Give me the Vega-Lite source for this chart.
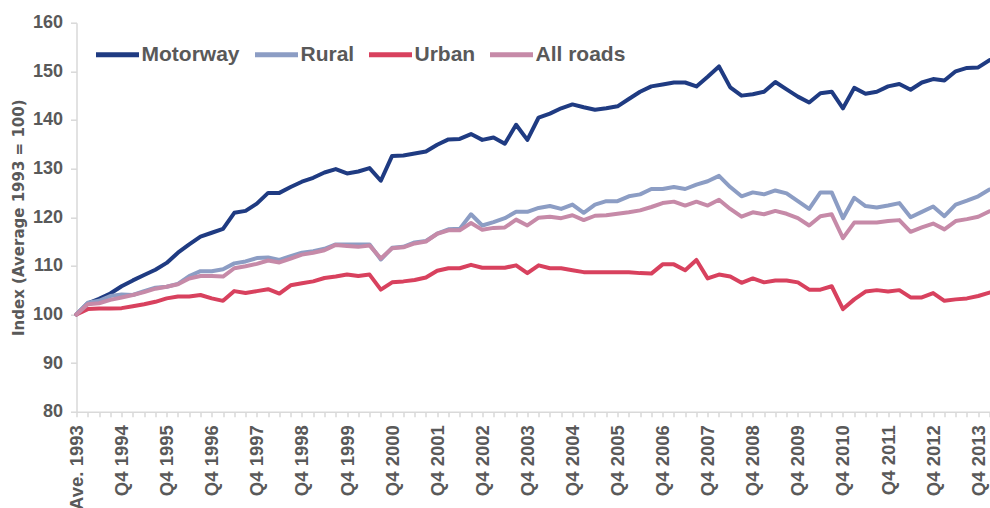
{
"$schema": "https://vega.github.io/schema/vega-lite/v6.json",
"width": 913, "height": 389,
"autosize": {"type": "none"},
"padding": {"left": 76.5, "top": 22.7, "right": 0.5, "bottom": 96.3},
"background": "white",
"config": {"view": {"stroke": null}, "font": "Liberation Sans"},
"datasets": {"d": [
{"period":"Ave. 1993","road":"Motorway","index":100.0},{"period":"Q1 1994","road":"Motorway","index":102.3},{"period":"Q2 1994","road":"Motorway","index":103.2},{"period":"Q3 1994","road":"Motorway","index":104.3},{"period":"Q4 1994","road":"Motorway","index":105.8},
{"period":"Q1 1995","road":"Motorway","index":107.0},{"period":"Q2 1995","road":"Motorway","index":108.1},{"period":"Q3 1995","road":"Motorway","index":109.2},{"period":"Q4 1995","road":"Motorway","index":110.6},
{"period":"Q1 1996","road":"Motorway","index":112.7},{"period":"Q2 1996","road":"Motorway","index":114.4},{"period":"Q3 1996","road":"Motorway","index":116.0},{"period":"Q4 1996","road":"Motorway","index":116.8},
{"period":"Q1 1997","road":"Motorway","index":117.6},{"period":"Q2 1997","road":"Motorway","index":120.9},{"period":"Q3 1997","road":"Motorway","index":121.3},{"period":"Q4 1997","road":"Motorway","index":122.8},
{"period":"Q1 1998","road":"Motorway","index":125.0},{"period":"Q2 1998","road":"Motorway","index":125.0},{"period":"Q3 1998","road":"Motorway","index":126.2},{"period":"Q4 1998","road":"Motorway","index":127.3},
{"period":"Q1 1999","road":"Motorway","index":128.1},{"period":"Q2 1999","road":"Motorway","index":129.2},{"period":"Q3 1999","road":"Motorway","index":129.9},{"period":"Q4 1999","road":"Motorway","index":129.0},
{"period":"Q1 2000","road":"Motorway","index":129.4},{"period":"Q2 2000","road":"Motorway","index":130.1},{"period":"Q3 2000","road":"Motorway","index":127.5},{"period":"Q4 2000","road":"Motorway","index":132.6},
{"period":"Q1 2001","road":"Motorway","index":132.7},{"period":"Q2 2001","road":"Motorway","index":133.1},{"period":"Q3 2001","road":"Motorway","index":133.5},{"period":"Q4 2001","road":"Motorway","index":134.9},
{"period":"Q1 2002","road":"Motorway","index":136.0},{"period":"Q2 2002","road":"Motorway","index":136.1},{"period":"Q3 2002","road":"Motorway","index":137.1},{"period":"Q4 2002","road":"Motorway","index":135.9},
{"period":"Q1 2003","road":"Motorway","index":136.4},{"period":"Q2 2003","road":"Motorway","index":135.1},{"period":"Q3 2003","road":"Motorway","index":139.0},{"period":"Q4 2003","road":"Motorway","index":135.9},
{"period":"Q1 2004","road":"Motorway","index":140.5},{"period":"Q2 2004","road":"Motorway","index":141.3},{"period":"Q3 2004","road":"Motorway","index":142.4},{"period":"Q4 2004","road":"Motorway","index":143.2},
{"period":"Q1 2005","road":"Motorway","index":142.6},{"period":"Q2 2005","road":"Motorway","index":142.1},{"period":"Q3 2005","road":"Motorway","index":142.4},{"period":"Q4 2005","road":"Motorway","index":142.8},
{"period":"Q1 2006","road":"Motorway","index":144.3},{"period":"Q2 2006","road":"Motorway","index":145.8},{"period":"Q3 2006","road":"Motorway","index":146.9},{"period":"Q4 2006","road":"Motorway","index":147.3},
{"period":"Q1 2007","road":"Motorway","index":147.7},{"period":"Q2 2007","road":"Motorway","index":147.7},{"period":"Q3 2007","road":"Motorway","index":146.9},{"period":"Q4 2007","road":"Motorway","index":148.9},
{"period":"Q1 2008","road":"Motorway","index":151.0},{"period":"Q2 2008","road":"Motorway","index":146.7},{"period":"Q3 2008","road":"Motorway","index":145.0},{"period":"Q4 2008","road":"Motorway","index":145.3},
{"period":"Q1 2009","road":"Motorway","index":145.8},{"period":"Q2 2009","road":"Motorway","index":147.8},{"period":"Q3 2009","road":"Motorway","index":146.3},{"period":"Q4 2009","road":"Motorway","index":144.8},
{"period":"Q1 2010","road":"Motorway","index":143.6},{"period":"Q2 2010","road":"Motorway","index":145.5},{"period":"Q3 2010","road":"Motorway","index":145.8},{"period":"Q4 2010","road":"Motorway","index":142.4},
{"period":"Q1 2011","road":"Motorway","index":146.6},{"period":"Q2 2011","road":"Motorway","index":145.4},{"period":"Q3 2011","road":"Motorway","index":145.8},{"period":"Q4 2011","road":"Motorway","index":146.9},
{"period":"Q1 2012","road":"Motorway","index":147.4},{"period":"Q2 2012","road":"Motorway","index":146.2},{"period":"Q3 2012","road":"Motorway","index":147.7},{"period":"Q4 2012","road":"Motorway","index":148.4},
{"period":"Q1 2013","road":"Motorway","index":148.1},{"period":"Q2 2013","road":"Motorway","index":150.0},{"period":"Q3 2013","road":"Motorway","index":150.7},{"period":"Q4 2013","road":"Motorway","index":150.8},
{"period":"Q1 2014","road":"Motorway","index":152.3},

{"period":"Ave. 1993","road":"Rural","index":100.0},{"period":"Q1 1994","road":"Rural","index":102.4},{"period":"Q2 1994","road":"Rural","index":102.8},{"period":"Q3 1994","road":"Rural","index":103.8},{"period":"Q4 1994","road":"Rural","index":104.1},
{"period":"Q1 1995","road":"Rural","index":104.0},{"period":"Q2 1995","road":"Rural","index":104.8},{"period":"Q3 1995","road":"Rural","index":105.5},{"period":"Q4 1995","road":"Rural","index":105.7},
{"period":"Q1 1996","road":"Rural","index":106.3},{"period":"Q2 1996","road":"Rural","index":107.9},{"period":"Q3 1996","road":"Rural","index":108.9},{"period":"Q4 1996","road":"Rural","index":108.9},
{"period":"Q1 1997","road":"Rural","index":109.3},{"period":"Q2 1997","road":"Rural","index":110.5},{"period":"Q3 1997","road":"Rural","index":110.9},{"period":"Q4 1997","road":"Rural","index":111.6},
{"period":"Q1 1998","road":"Rural","index":111.7},{"period":"Q2 1998","road":"Rural","index":111.2},{"period":"Q3 1998","road":"Rural","index":112.0},{"period":"Q4 1998","road":"Rural","index":112.7},
{"period":"Q1 1999","road":"Rural","index":113.0},{"period":"Q2 1999","road":"Rural","index":113.5},{"period":"Q3 1999","road":"Rural","index":114.4},{"period":"Q4 1999","road":"Rural","index":114.4},
{"period":"Q1 2000","road":"Rural","index":114.4},{"period":"Q2 2000","road":"Rural","index":114.4},{"period":"Q3 2000","road":"Rural","index":111.3},{"period":"Q4 2000","road":"Rural","index":113.7},
{"period":"Q1 2001","road":"Rural","index":113.9},{"period":"Q2 2001","road":"Rural","index":114.8},{"period":"Q3 2001","road":"Rural","index":115.1},{"period":"Q4 2001","road":"Rural","index":116.6},
{"period":"Q1 2002","road":"Rural","index":117.5},{"period":"Q2 2002","road":"Rural","index":117.6},{"period":"Q3 2002","road":"Rural","index":120.6},{"period":"Q4 2002","road":"Rural","index":118.3},
{"period":"Q1 2003","road":"Rural","index":119.0},{"period":"Q2 2003","road":"Rural","index":119.8},{"period":"Q3 2003","road":"Rural","index":121.1},{"period":"Q4 2003","road":"Rural","index":121.1},
{"period":"Q1 2004","road":"Rural","index":121.9},{"period":"Q2 2004","road":"Rural","index":122.3},{"period":"Q3 2004","road":"Rural","index":121.7},{"period":"Q4 2004","road":"Rural","index":122.6},
{"period":"Q1 2005","road":"Rural","index":120.9},{"period":"Q2 2005","road":"Rural","index":122.6},{"period":"Q3 2005","road":"Rural","index":123.3},{"period":"Q4 2005","road":"Rural","index":123.3},
{"period":"Q1 2006","road":"Rural","index":124.3},{"period":"Q2 2006","road":"Rural","index":124.7},{"period":"Q3 2006","road":"Rural","index":125.8},{"period":"Q4 2006","road":"Rural","index":125.8},
{"period":"Q1 2007","road":"Rural","index":126.2},{"period":"Q2 2007","road":"Rural","index":125.8},{"period":"Q3 2007","road":"Rural","index":126.7},{"period":"Q4 2007","road":"Rural","index":127.4},
{"period":"Q1 2008","road":"Rural","index":128.5},{"period":"Q2 2008","road":"Rural","index":126.2},{"period":"Q3 2008","road":"Rural","index":124.3},{"period":"Q4 2008","road":"Rural","index":125.1},
{"period":"Q1 2009","road":"Rural","index":124.7},{"period":"Q2 2009","road":"Rural","index":125.5},{"period":"Q3 2009","road":"Rural","index":124.9},{"period":"Q4 2009","road":"Rural","index":123.3},
{"period":"Q1 2010","road":"Rural","index":121.7},{"period":"Q2 2010","road":"Rural","index":125.1},{"period":"Q3 2010","road":"Rural","index":125.1},{"period":"Q4 2010","road":"Rural","index":119.8},
{"period":"Q1 2011","road":"Rural","index":124.0},{"period":"Q2 2011","road":"Rural","index":122.3},{"period":"Q3 2011","road":"Rural","index":122.0},{"period":"Q4 2011","road":"Rural","index":122.4},
{"period":"Q1 2012","road":"Rural","index":122.9},{"period":"Q2 2012","road":"Rural","index":120.0},{"period":"Q3 2012","road":"Rural","index":121.1},{"period":"Q4 2012","road":"Rural","index":122.2},
{"period":"Q1 2013","road":"Rural","index":120.2},{"period":"Q2 2013","road":"Rural","index":122.6},{"period":"Q3 2013","road":"Rural","index":123.4},{"period":"Q4 2013","road":"Rural","index":124.3},
{"period":"Q1 2014","road":"Rural","index":125.7},

{"period":"Ave. 1993","road":"Urban","index":100.0},{"period":"Q1 1994","road":"Urban","index":101.1},{"period":"Q2 1994","road":"Urban","index":101.2},{"period":"Q3 1994","road":"Urban","index":101.2},{"period":"Q4 1994","road":"Urban","index":101.3},
{"period":"Q1 1995","road":"Urban","index":101.7},{"period":"Q2 1995","road":"Urban","index":102.1},{"period":"Q3 1995","road":"Urban","index":102.6},{"period":"Q4 1995","road":"Urban","index":103.3},
{"period":"Q1 1996","road":"Urban","index":103.7},{"period":"Q2 1996","road":"Urban","index":103.7},{"period":"Q3 1996","road":"Urban","index":104.0},{"period":"Q4 1996","road":"Urban","index":103.3},
{"period":"Q1 1997","road":"Urban","index":102.8},{"period":"Q2 1997","road":"Urban","index":104.8},{"period":"Q3 1997","road":"Urban","index":104.4},{"period":"Q4 1997","road":"Urban","index":104.8},
{"period":"Q1 1998","road":"Urban","index":105.2},{"period":"Q2 1998","road":"Urban","index":104.3},{"period":"Q3 1998","road":"Urban","index":106.0},{"period":"Q4 1998","road":"Urban","index":106.4},
{"period":"Q1 1999","road":"Urban","index":106.8},{"period":"Q2 1999","road":"Urban","index":107.5},{"period":"Q3 1999","road":"Urban","index":107.8},{"period":"Q4 1999","road":"Urban","index":108.2},
{"period":"Q1 2000","road":"Urban","index":107.9},{"period":"Q2 2000","road":"Urban","index":108.2},{"period":"Q3 2000","road":"Urban","index":105.1},{"period":"Q4 2000","road":"Urban","index":106.6},
{"period":"Q1 2001","road":"Urban","index":106.8},{"period":"Q2 2001","road":"Urban","index":107.1},{"period":"Q3 2001","road":"Urban","index":107.6},{"period":"Q4 2001","road":"Urban","index":109.0},
{"period":"Q1 2002","road":"Urban","index":109.5},{"period":"Q2 2002","road":"Urban","index":109.5},{"period":"Q3 2002","road":"Urban","index":110.2},{"period":"Q4 2002","road":"Urban","index":109.6},
{"period":"Q1 2003","road":"Urban","index":109.6},{"period":"Q2 2003","road":"Urban","index":109.6},{"period":"Q3 2003","road":"Urban","index":110.1},{"period":"Q4 2003","road":"Urban","index":108.5},
{"period":"Q1 2004","road":"Urban","index":110.1},{"period":"Q2 2004","road":"Urban","index":109.5},{"period":"Q3 2004","road":"Urban","index":109.5},{"period":"Q4 2004","road":"Urban","index":109.1},
{"period":"Q1 2005","road":"Urban","index":108.7},{"period":"Q2 2005","road":"Urban","index":108.7},{"period":"Q3 2005","road":"Urban","index":108.7},{"period":"Q4 2005","road":"Urban","index":108.7},
{"period":"Q1 2006","road":"Urban","index":108.7},{"period":"Q2 2006","road":"Urban","index":108.5},{"period":"Q3 2006","road":"Urban","index":108.4},{"period":"Q4 2006","road":"Urban","index":110.3},
{"period":"Q1 2007","road":"Urban","index":110.3},{"period":"Q2 2007","road":"Urban","index":109.1},{"period":"Q3 2007","road":"Urban","index":111.2},{"period":"Q4 2007","road":"Urban","index":107.4},
{"period":"Q1 2008","road":"Urban","index":108.2},{"period":"Q2 2008","road":"Urban","index":107.8},{"period":"Q3 2008","road":"Urban","index":106.5},{"period":"Q4 2008","road":"Urban","index":107.4},
{"period":"Q1 2009","road":"Urban","index":106.6},{"period":"Q2 2009","road":"Urban","index":107.0},{"period":"Q3 2009","road":"Urban","index":107.0},{"period":"Q4 2009","road":"Urban","index":106.6},
{"period":"Q1 2010","road":"Urban","index":105.1},{"period":"Q2 2010","road":"Urban","index":105.1},{"period":"Q3 2010","road":"Urban","index":105.8},{"period":"Q4 2010","road":"Urban","index":101.1},
{"period":"Q1 2011","road":"Urban","index":103.1},{"period":"Q2 2011","road":"Urban","index":104.7},{"period":"Q3 2011","road":"Urban","index":105.0},{"period":"Q4 2011","road":"Urban","index":104.7},
{"period":"Q1 2012","road":"Urban","index":105.0},{"period":"Q2 2012","road":"Urban","index":103.5},{"period":"Q3 2012","road":"Urban","index":103.5},{"period":"Q4 2012","road":"Urban","index":104.4},
{"period":"Q1 2013","road":"Urban","index":102.8},{"period":"Q2 2013","road":"Urban","index":103.1},{"period":"Q3 2013","road":"Urban","index":103.3},{"period":"Q4 2013","road":"Urban","index":103.8},
{"period":"Q1 2014","road":"Urban","index":104.5},

{"period":"Ave. 1993","road":"All roads","index":100.0},{"period":"Q1 1994","road":"All roads","index":102.1},{"period":"Q2 1994","road":"All roads","index":102.3},{"period":"Q3 1994","road":"All roads","index":103.0},{"period":"Q4 1994","road":"All roads","index":103.5},
{"period":"Q1 1995","road":"All roads","index":104.0},{"period":"Q2 1995","road":"All roads","index":104.6},{"period":"Q3 1995","road":"All roads","index":105.3},{"period":"Q4 1995","road":"All roads","index":105.7},
{"period":"Q1 1996","road":"All roads","index":106.2},{"period":"Q2 1996","road":"All roads","index":107.4},{"period":"Q3 1996","road":"All roads","index":107.9},{"period":"Q4 1996","road":"All roads","index":107.9},
{"period":"Q1 1997","road":"All roads","index":107.8},{"period":"Q2 1997","road":"All roads","index":109.5},{"period":"Q3 1997","road":"All roads","index":109.9},{"period":"Q4 1997","road":"All roads","index":110.4},
{"period":"Q1 1998","road":"All roads","index":111.1},{"period":"Q2 1998","road":"All roads","index":110.7},{"period":"Q3 1998","road":"All roads","index":111.5},{"period":"Q4 1998","road":"All roads","index":112.3},
{"period":"Q1 1999","road":"All roads","index":112.7},{"period":"Q2 1999","road":"All roads","index":113.2},{"period":"Q3 1999","road":"All roads","index":114.3},{"period":"Q4 1999","road":"All roads","index":114.1},
{"period":"Q1 2000","road":"All roads","index":113.9},{"period":"Q2 2000","road":"All roads","index":114.2},{"period":"Q3 2000","road":"All roads","index":111.5},{"period":"Q4 2000","road":"All roads","index":113.6},
{"period":"Q1 2001","road":"All roads","index":113.8},{"period":"Q2 2001","road":"All roads","index":114.6},{"period":"Q3 2001","road":"All roads","index":115.0},{"period":"Q4 2001","road":"All roads","index":116.6},
{"period":"Q1 2002","road":"All roads","index":117.3},{"period":"Q2 2002","road":"All roads","index":117.3},{"period":"Q3 2002","road":"All roads","index":118.8},{"period":"Q4 2002","road":"All roads","index":117.4},
{"period":"Q1 2003","road":"All roads","index":117.8},{"period":"Q2 2003","road":"All roads","index":117.9},{"period":"Q3 2003","road":"All roads","index":119.5},{"period":"Q4 2003","road":"All roads","index":118.3},
{"period":"Q1 2004","road":"All roads","index":119.9},{"period":"Q2 2004","road":"All roads","index":120.1},{"period":"Q3 2004","road":"All roads","index":119.8},{"period":"Q4 2004","road":"All roads","index":120.4},
{"period":"Q1 2005","road":"All roads","index":119.4},{"period":"Q2 2005","road":"All roads","index":120.3},{"period":"Q3 2005","road":"All roads","index":120.4},{"period":"Q4 2005","road":"All roads","index":120.7},
{"period":"Q1 2006","road":"All roads","index":121.0},{"period":"Q2 2006","road":"All roads","index":121.4},{"period":"Q3 2006","road":"All roads","index":122.1},{"period":"Q4 2006","road":"All roads","index":122.9},
{"period":"Q1 2007","road":"All roads","index":123.2},{"period":"Q2 2007","road":"All roads","index":122.4},{"period":"Q3 2007","road":"All roads","index":123.2},{"period":"Q4 2007","road":"All roads","index":122.4},
{"period":"Q1 2008","road":"All roads","index":123.6},{"period":"Q2 2008","road":"All roads","index":121.7},{"period":"Q3 2008","road":"All roads","index":120.1},{"period":"Q4 2008","road":"All roads","index":121.0},
{"period":"Q1 2009","road":"All roads","index":120.6},{"period":"Q2 2009","road":"All roads","index":121.3},{"period":"Q3 2009","road":"All roads","index":120.7},{"period":"Q4 2009","road":"All roads","index":119.8},
{"period":"Q1 2010","road":"All roads","index":118.3},{"period":"Q2 2010","road":"All roads","index":120.2},{"period":"Q3 2010","road":"All roads","index":120.6},{"period":"Q4 2010","road":"All roads","index":115.7},
{"period":"Q1 2011","road":"All roads","index":118.9},{"period":"Q2 2011","road":"All roads","index":118.9},{"period":"Q3 2011","road":"All roads","index":118.9},{"period":"Q4 2011","road":"All roads","index":119.2},
{"period":"Q1 2012","road":"All roads","index":119.4},{"period":"Q2 2012","road":"All roads","index":117.0},{"period":"Q3 2012","road":"All roads","index":117.9},{"period":"Q4 2012","road":"All roads","index":118.7},
{"period":"Q1 2013","road":"All roads","index":117.5},{"period":"Q2 2013","road":"All roads","index":119.2},{"period":"Q3 2013","road":"All roads","index":119.6},{"period":"Q4 2013","road":"All roads","index":120.1},
{"period":"Q1 2014","road":"All roads","index":121.2}
]},
"data": {"name": "d"},
"mark": {"type": "line", "strokeWidth": 4, "strokeJoin": "round", "strokeCap": "round"},
"encoding": {
  "x": {"field": "period", "type": "ordinal", "sort": null,
        "scale": {"type": "point", "padding": 0},
        "axis": {"title": null, "labelAngle": -90,
                 "labelExpr": "indexof(datum.label, 'Q4') === 0 || indexof(datum.label, 'Ave') === 0 ? datum.label : ''",
                 "labelOverlap": false, "labelBound": false, "labelFont": "Liberation Sans", "labelFontSize": 18.5, "labelFontWeight": "bold",
                 "labelColor": "#595959", "labelPadding": 8, "tickSize": 5, "tickColor": "#D9D9D9", "tickWidth": 1.5,
                 "domainColor": "#D9D9D9", "domainWidth": 1.5}},
  "y": {"field": "index", "type": "quantitative",
        "scale": {"domain": [80, 160], "nice": false, "zero": false},
        "axis": {"title": "Index (Average 1993 = 100)", "values": [80, 90, 100, 110, 120, 130, 140, 150, 160],
                 "grid": false, "labelFont": "Liberation Sans", "labelFontSize": 18, "labelFontWeight": "bold", "labelColor": "#595959",
                 "labelPadding": 8, "tickSize": 6, "tickColor": "#D9D9D9", "tickWidth": 1.5, "domainColor": "#D9D9D9", "domainWidth": 1.5,
                 "titleFont": "DejaVu Sans", "titleFontSize": 15, "titleFontWeight": "bold", "titleColor": "#595959", "titlePadding": 6}},
  "color": {"field": "road", "type": "nominal",
            "scale": {"domain": ["Motorway", "Rural", "Urban", "All roads"], "range": ["#1F3B82", "#8C9DC4", "#D8415E", "#C68AA8"]},
            "legend": {"title": null, "orient": "none", "legendX": 17, "legendY": 8, "direction": "horizontal",
                       "symbolType": "stroke", "symbolSize": 1849, "symbolStrokeWidth": 5,
                       "labelFont": "Liberation Sans", "labelFontSize": 21, "labelFontWeight": "bold", "labelColor": "#595959",
                       "labelOffset": 0, "columnPadding": 4, "labelLimit": 300, "padding": 0}}
}
}
